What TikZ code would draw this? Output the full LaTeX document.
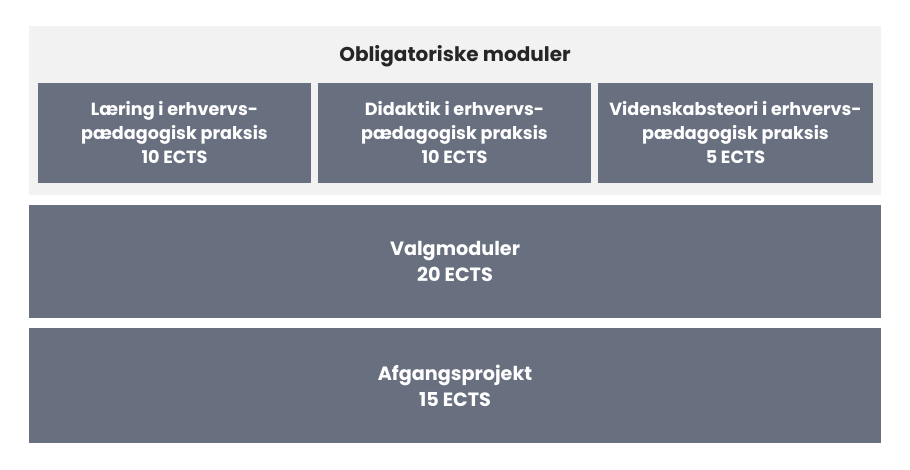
\documentclass[tikz,border=0pt]{standalone}
\usepackage{fontspec}
\setmainfont{Poppins}
\definecolor{slate}{RGB}{104,112,128}
\definecolor{panel}{RGB}{242,242,242}
\begin{document}
\begin{tikzpicture}[x=1pt,y=-1pt,
  modbox/.style={fill=slate,draw=none,text=white,font=\fontsize{17.6}{24}\selectfont\bfseries,align=center,inner sep=0pt},
  bigbox/.style={fill=slate,draw=none,text=white,font=\fontsize{19.2}{26}\selectfont\bfseries,align=center,inner sep=0pt}]
\useasboundingbox (0,0) rectangle (910,470);
\fill[white] (0,0) rectangle (910,470);
\fill[panel] (29,26) rectangle (881,195);
\node[font=\fontsize{20}{22}\selectfont\bfseries,text=black!85] (title) at (455,56) {Obligatoriske moduler};
\node[modbox,minimum width=273pt,minimum height=100pt] (m1) at (174.5,133) {Læring i erhvervs-\\pædagogisk praksis\\10 ECTS};
\node[modbox,minimum width=273pt,minimum height=100pt] (m2) at (454.5,133) {Didaktik i erhvervs-\\pædagogisk praksis\\10 ECTS};
\node[modbox,minimum width=275pt,minimum height=100pt] (m3) at (735.5,133) {Videnskabsteori i erhvervs-\\pædagogisk praksis\\5 ECTS};
\node[bigbox,minimum width=852pt,minimum height=113pt] (valg) at (455,261.5) {Valgmoduler\\20 ECTS};
\node[bigbox,minimum width=852pt,minimum height=115pt] (afg) at (455,385.5) {Afgangsprojekt\\15 ECTS};
\end{tikzpicture}
\end{document}
